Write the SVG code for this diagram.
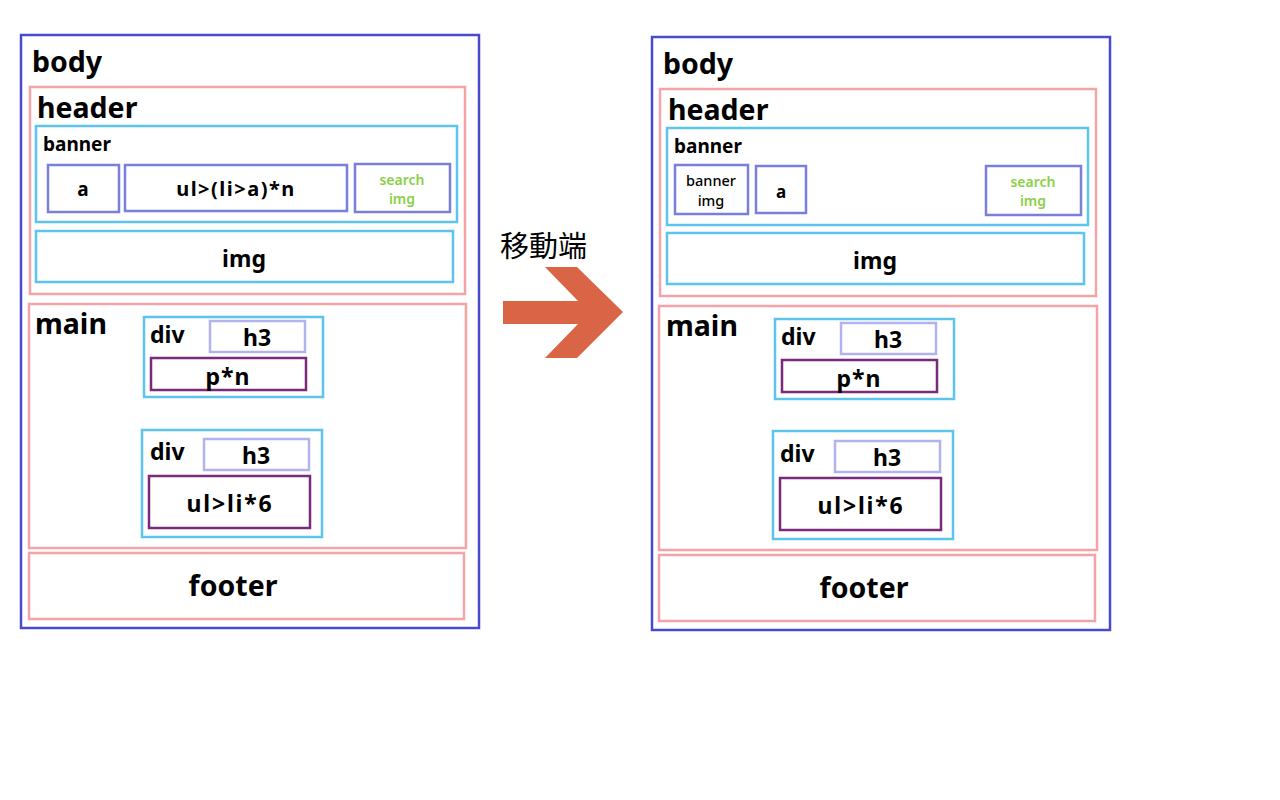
<svg xmlns="http://www.w3.org/2000/svg" width="1280" height="800" viewBox="0 0 1280 800">
<style>
rect{fill:none}
.body{stroke:#4a4ad0;stroke-width:2.5}
.sec{stroke:#f4a3a6;stroke-width:2.5}
.blue{stroke:#5cc4ee;stroke-width:2.5}
.el{stroke:#7b7fdc;stroke-width:2.5}
.h3{stroke:#b2b2ee;stroke-width:2.5}
.pu{stroke:#7a2a78;stroke-width:2.5}
text{font-family:"Noto Sans","Open Sans","Liberation Sans",sans-serif;font-weight:bold;fill:#000}
.big{font-size:28.5px}
.mid{font-size:23px}
.sm{font-size:19px}
.c{text-anchor:middle}
.grn{font-size:14px;fill:#8ccf48;font-weight:600}
.tiny{font-size:14.5px;font-weight:500}
</style>
<rect width="1280" height="800" fill="#fff" style="fill:#fff"/>
<g id="left">
<g id="l-body"><rect class="body" x="21" y="35" width="458" height="593"/><text class="big" x="32" y="72">body</text></g>
<g id="l-header"><rect class="sec" x="30" y="87" width="435" height="207"/><text class="big" x="37" y="118">header</text></g>
<g id="l-banner"><rect class="blue" x="36" y="126" width="421" height="96"/><text class="sm" x="43" y="151">banner</text></g>
<g id="l-a"><rect class="el" x="48" y="165" width="71" height="47"/><text class="sm c" x="83" y="196">a</text></g>
<g id="l-ul"><rect class="el" x="125" y="165" width="222" height="46"/><text class="sm c" x="236" y="196" style="font-size:20px;letter-spacing:1.5px">ul&gt;(li&gt;a)*n</text></g>
<g id="l-search"><rect class="el" x="355" y="164" width="95" height="48"/><text class="grn c" x="402" y="185">search</text><text class="grn c" x="402" y="204">img</text></g>
<g id="l-img"><rect class="blue" x="36" y="231" width="417" height="51"/><text class="mid c" x="244" y="267">img</text></g>
<g id="l-main"><rect class="sec" x="29" y="304" width="437" height="244"/><text class="big" x="35" y="334">main</text></g>
<g id="l-div1"><rect class="blue" x="144" y="317" width="179" height="80"/><text class="mid" x="150" y="343">div</text>
<rect class="h3" x="210" y="321" width="95" height="31"/><text class="mid c" x="257" y="346">h3</text>
<rect class="pu" x="151" y="358" width="155" height="32"/><text class="mid c" x="228" y="385" style="letter-spacing:1px">p*n</text></g>
<g id="l-div2"><rect class="blue" x="142" y="430" width="180" height="107"/><text class="mid" x="150" y="460">div</text>
<rect class="h3" x="204" y="439" width="105" height="31"/><text class="mid c" x="256" y="464">h3</text>
<rect class="pu" x="149" y="476" width="161" height="52"/><text class="mid c" x="230" y="512" style="letter-spacing:1.8px">ul&gt;li*6</text></g>
<g id="l-footer"><rect class="sec" x="29" y="553" width="435" height="66"/><text class="big c" x="233" y="596">footer</text></g>
</g>
<g id="connectors">
<polygon points="503,301 578,301 545,267 577,267 623,312 577,358 545,358 578,324 503,324" fill="#da6546"/>
<text x="500" y="257" style="font-family:'Liberation Serif','Noto Sans CJK TC',serif;font-weight:normal;font-size:29px">移動端</text>
</g>
<g id="right">
<g id="r-body"><rect class="body" x="652" y="37" width="458" height="593"/><text class="big" x="663" y="74">body</text></g>
<g id="r-header"><rect class="sec" x="660" y="89" width="436" height="207"/><text class="big" x="668" y="120">header</text></g>
<g id="r-banner"><rect class="blue" x="667" y="128" width="421" height="97"/><text class="sm" x="674" y="153">banner</text></g>
<g id="r-bimg"><rect class="el" x="675" y="165" width="73" height="49"/><text class="tiny c" x="711" y="186">banner</text><text class="tiny c" x="711" y="206">img</text></g>
<g id="r-a"><rect class="el" x="756" y="166" width="50" height="47"/><text class="sm c" x="781" y="198" style="font-size:17px">a</text></g>
<g id="r-search"><rect class="el" x="986" y="166" width="95" height="49"/><text class="grn c" x="1033" y="187">search</text><text class="grn c" x="1033" y="206">img</text></g>
<g id="r-img"><rect class="blue" x="667" y="233" width="417" height="51"/><text class="mid c" x="875" y="269">img</text></g>
<g id="r-main"><rect class="sec" x="659" y="306" width="438" height="244"/><text class="big" x="666" y="336">main</text></g>
<g id="r-div1"><rect class="blue" x="775" y="319" width="179" height="80"/><text class="mid" x="781" y="345">div</text>
<rect class="h3" x="841" y="323" width="95" height="31"/><text class="mid c" x="888" y="348">h3</text>
<rect class="pu" x="782" y="360" width="155" height="32"/><text class="mid c" x="859" y="387" style="letter-spacing:1px">p*n</text></g>
<g id="r-div2"><rect class="blue" x="773" y="431" width="180" height="108"/><text class="mid" x="780" y="462">div</text>
<rect class="h3" x="835" y="441" width="105" height="31"/><text class="mid c" x="887" y="466">h3</text>
<rect class="pu" x="780" y="478" width="161" height="52"/><text class="mid c" x="861" y="514" style="letter-spacing:1.8px">ul&gt;li*6</text></g>
<g id="r-footer"><rect class="sec" x="659" y="555" width="436" height="66"/><text class="big c" x="864" y="598">footer</text></g>
</g>
</svg>
